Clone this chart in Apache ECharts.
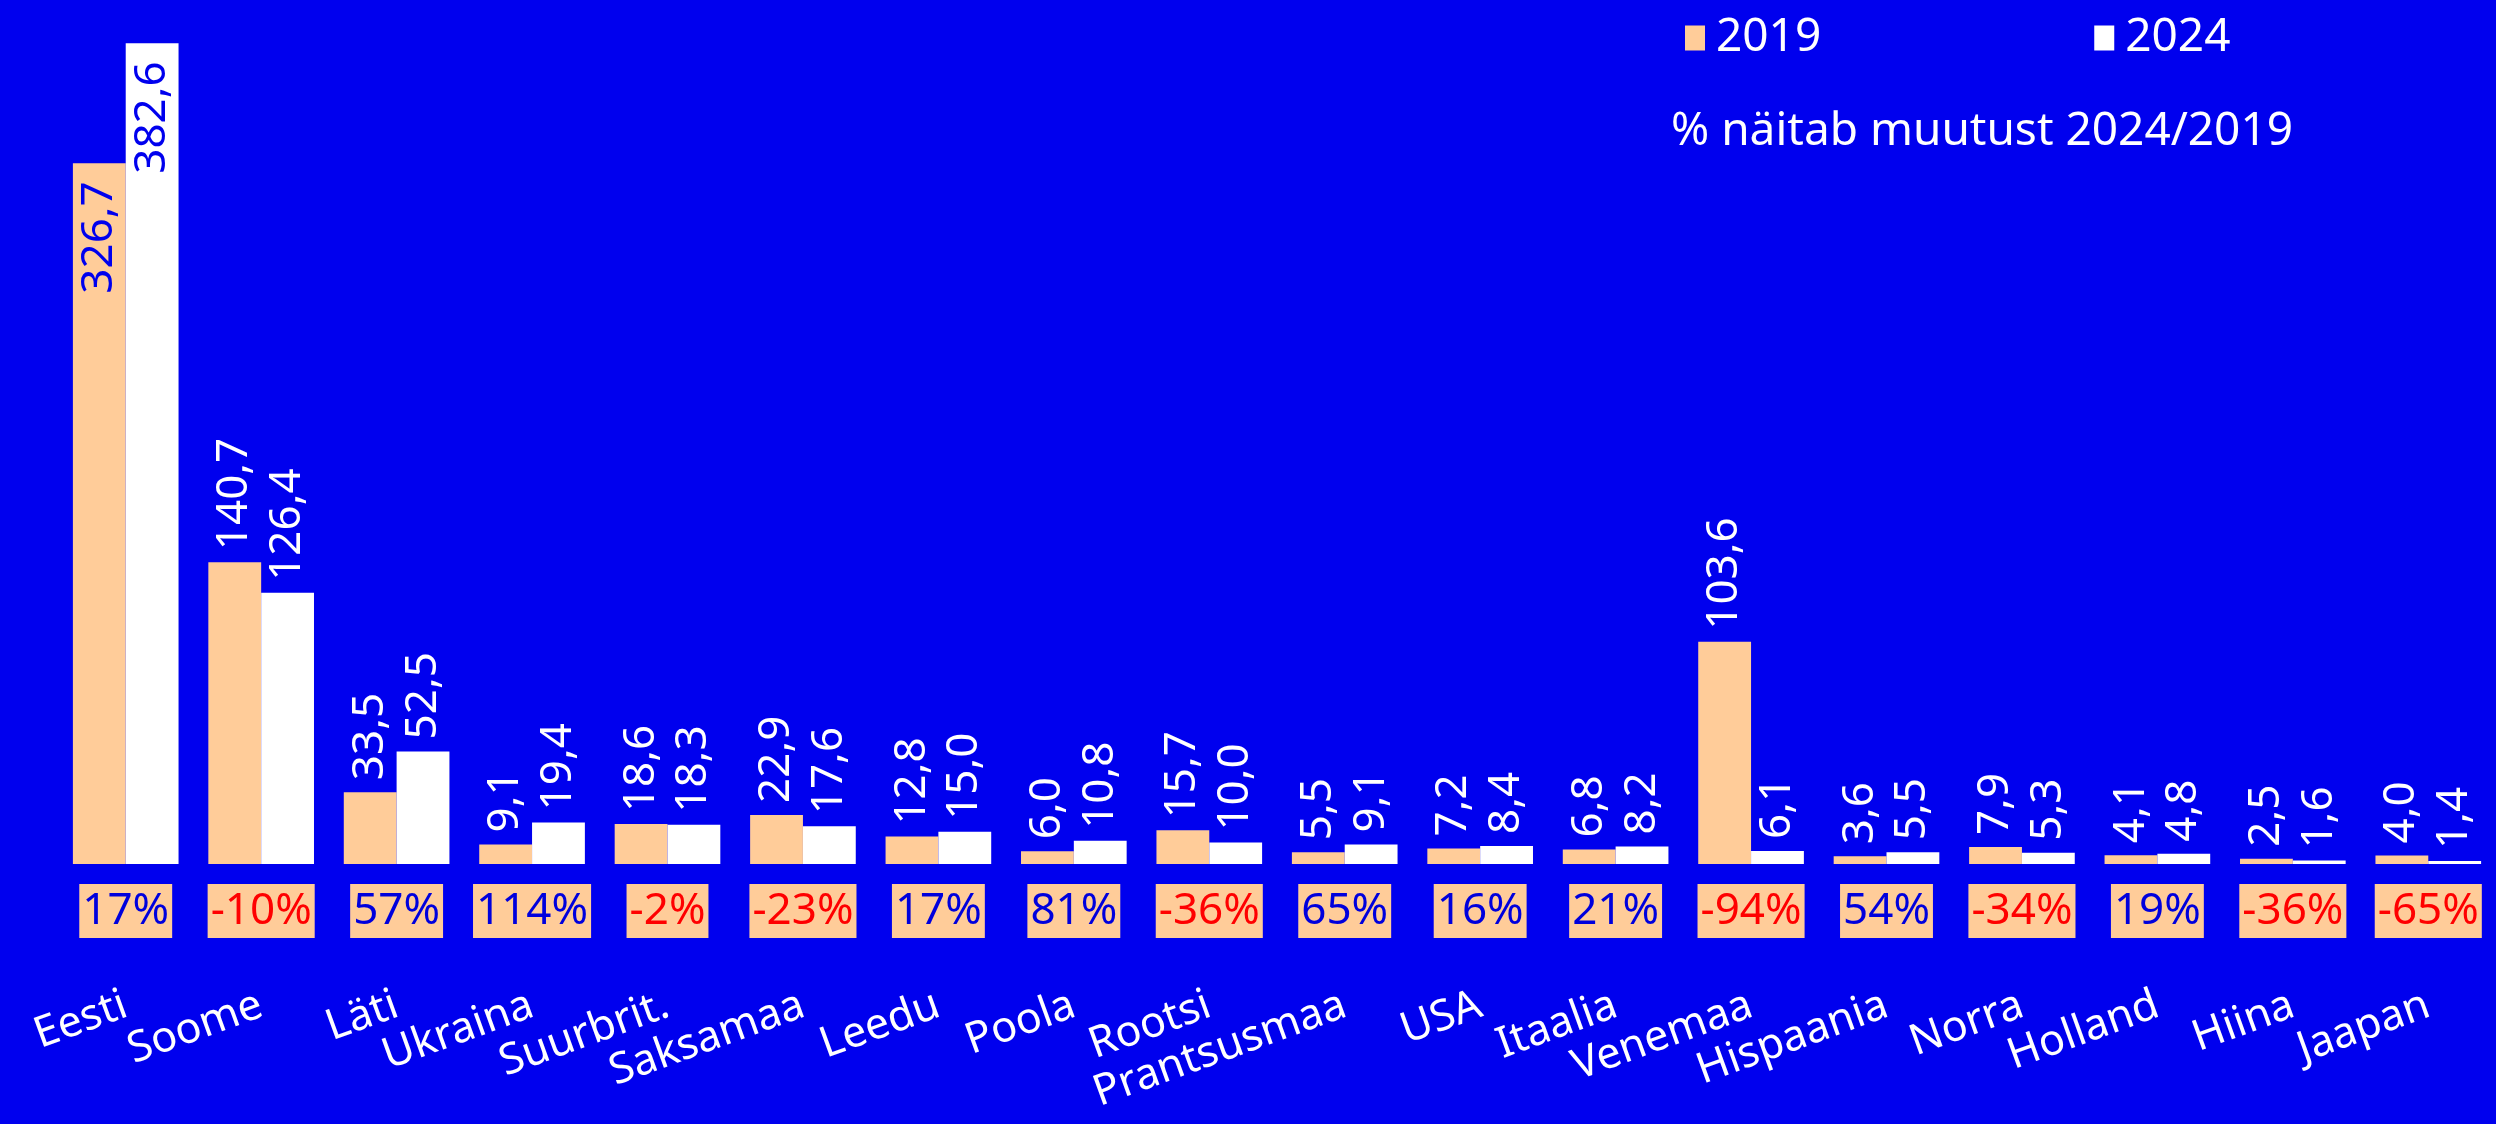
<!DOCTYPE html>
<html>
<head>
<meta charset="utf-8">
<script src="https://cdn.jsdelivr.net/npm/echarts@6/dist/echarts.min.js"></script>
<style>
  html, body { margin: 0; padding: 0; background: #0000ee; }
  #chart { width: 2496px; height: 1124px; }
</style>
</head>
<body>
<div id="chart"></div>
<script>
// values
const countries = ['Eesti', 'Soome', 'Läti', 'Ukraina', 'Suurbrit.', 'Saksamaa', 'Leedu', 'Poola', 'Rootsi',
  'Prantsusmaa', 'USA', 'Itaalia', 'Venemaa', 'Hispaania', 'Norra', 'Holland', 'Hiina', 'Jaapan']
const values2019 = [326.7, 140.7, 33.5, 9.1, 18.6, 22.9, 12.8, 6.0, 15.7, 5.5, 7.2, 6.8, 103.6, 3.6, 7.9, 4.1, 2.5, 4.0]
const values2024 = [382.6, 126.4, 52.5, 19.4, 18.3, 17.6, 15.0, 10.8, 10.0, 9.1, 8.4, 8.2, 6.1, 5.5, 5.3, 4.8, 1.6, 1.4]
const changePct = [17, -10, 57, 114, -2, -23, 17, 81, -36, 65, 16, 21, -94, 54, -34, 19, -36, -65]
const seriesNames = ['2019', '2024']
const noteText = '% näitab muutust 2024/2019'

const FONT = 'Noto Sans'
const BLUE = '#0000ee'
const PEACH = '#ffcc99'

const fmt = v => v.toFixed(1).replace('.', ',')

const valueLabel = {
  show: true,
  position: 'top',
  rotate: 90,
  align: 'left',
  verticalAlign: 'middle',
  distance: 12,
  color: '#fff',
  fontSize: 44,
  fontFamily: FONT,
  formatter: p => fmt(p.value)
}

// tall bars get their label inside, near the top
const insideLabel = { position: 'insideTop', align: 'right', distance: 18, color: BLUE }
const toData = arr => arr.map(v => v > 300 ? { value: v, label: insideLabel } : v)

const chart = echarts.init(document.getElementById('chart'))

const option = {
  backgroundColor: BLUE,
  animation: false,
  title: {
    text: noteText,
    left: 1666,
    top: 104,
    textStyle: { color: '#fff', fontSize: 46, fontWeight: 'normal', fontFamily: FONT }
  },
  legend: {
    data: seriesNames,
    left: 1680,
    top: 10,
    icon: 'rect',
    itemWidth: 20,
    itemHeight: 25,
    itemGap: 273,
    textStyle: { color: '#fff', fontSize: 46, fontFamily: FONT, padding: [0, 0, 0, 6] }
  },
  grid: {
    left: 58,
    right: 0,
    top: 6,
    bottom: 260,
    outerBoundsMode: 'none'
  },
  xAxis: [
    {
      type: 'category',
      data: countries,
      position: 'bottom',
      axisLine: { show: false },
      axisTick: { show: false },
      axisLabel: {
        interval: 0,
        margin: 20,
        fontSize: 44,
        fontFamily: FONT,
        lineHeight: 46,
        padding: [4, 3],
        backgroundColor: PEACH,
        color: (v, i) => changePct[i] < 0 ? '#ff0000' : '#0000dd',
        formatter: (v, i) => changePct[i] + '%'
      }
    },
    {
      type: 'category',
      data: countries,
      position: 'bottom',
      axisLine: { show: false },
      axisTick: { show: false },
      axisLabel: {
        interval: 0,
        rotate: 20,
        margin: 140,
        color: '#fff',
        fontSize: 43,
        fontFamily: FONT
      }
    }
  ],
  yAxis: {
    type: 'value',
    min: 0,
    max: 400,
    show: false
  },
  series: [
    {
      name: seriesNames[0],
      type: 'bar',
      data: toData(values2019),
      barGap: '0%',
      barCategoryGap: '22%',
      itemStyle: { color: PEACH },
      label: valueLabel
    },
    {
      name: seriesNames[1],
      type: 'bar',
      data: toData(values2024),
      itemStyle: { color: '#fff' },
      label: valueLabel
    }
  ]
}

chart.setOption(option)
</script>
</body>
</html>
